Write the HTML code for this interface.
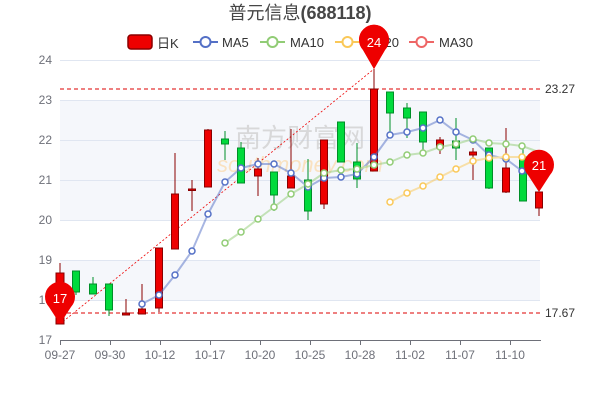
<!DOCTYPE html>
<html><head><meta charset="utf-8"><style>body{margin:0;background:#fff}svg{display:block}</style></head><body>
<svg width="600" height="400" xmlns="http://www.w3.org/2000/svg" font-family="Liberation Sans, Noto Sans CJK SC, sans-serif">
<rect width="600" height="400" fill="#fff"/>
<rect x="60" y="100" width="480" height="120" fill="#f5f7fb"/>
<rect x="60" y="260" width="480" height="40" fill="#f5f7fb"/>
<g stroke="#e0e6f1" stroke-width="1">
<line x1="60" y1="60.5" x2="540" y2="60.5"/><line x1="60" y1="100.5" x2="540" y2="100.5"/><line x1="60" y1="140.5" x2="540" y2="140.5"/><line x1="60" y1="180.5" x2="540" y2="180.5"/><line x1="60" y1="220.5" x2="540" y2="220.5"/><line x1="60" y1="260.5" x2="540" y2="260.5"/><line x1="60" y1="300.5" x2="540" y2="300.5"/>
</g>
<text x="300" y="147" font-size="26" fill="#ccc" opacity="0.7" text-anchor="middle">南方财富网</text>
<text x="300" y="172" font-size="22" fill="#fbd9a8" opacity="0.7" text-anchor="middle" font-style="italic">southmoney.com</text>
<line x1="60" y1="340.5" x2="541" y2="340.5" stroke="#6e7079"/>
<g stroke="#6e7079">
<line x1="60.5" y1="340" x2="60.5" y2="345"/><line x1="110.5" y1="340" x2="110.5" y2="345"/><line x1="160.5" y1="340" x2="160.5" y2="345"/><line x1="210.5" y1="340" x2="210.5" y2="345"/><line x1="260.5" y1="340" x2="260.5" y2="345"/><line x1="310.5" y1="340" x2="310.5" y2="345"/><line x1="360.5" y1="340" x2="360.5" y2="345"/><line x1="410.5" y1="340" x2="410.5" y2="345"/><line x1="460.5" y1="340" x2="460.5" y2="345"/><line x1="510.5" y1="340" x2="510.5" y2="345"/>
</g>
<g font-size="12" fill="#6e7079" text-anchor="middle">
<text x="60" y="359">09-27</text><text x="110" y="359">09-30</text><text x="160" y="359">10-12</text><text x="210" y="359">10-17</text><text x="260" y="359">10-20</text><text x="310" y="359">10-25</text><text x="360" y="359">10-28</text><text x="410" y="359">11-02</text><text x="460" y="359">11-07</text><text x="510" y="359">11-10</text>
</g>
<g font-size="12" fill="#6e7079" text-anchor="end">
<text x="52" y="64">24</text><text x="52" y="104">23</text><text x="52" y="144">22</text><text x="52" y="184">21</text><text x="52" y="224">20</text><text x="52" y="264">19</text><text x="52" y="304">18</text><text x="52" y="344">17</text>
</g>
<g stroke="#d00" stroke-dasharray="4,3" stroke-width="1">
<line x1="60" y1="89" x2="540" y2="89"/><line x1="60" y1="313" x2="540" y2="313"/>
</g>
<line x1="60" y1="324" x2="374" y2="69" stroke="#e00" stroke-dasharray="2,2" stroke-width="0.8"/>
<g font-size="12" fill="#333"><text x="545" y="93">23.27</text><text x="545" y="317">17.67</text></g>
<g id="c" stroke-width="1">
<!-- x, wickTop, wickBot, bodyTop, bodyBot, up -->
</g>
<g>
<line x1="60" y1="263" x2="60" y2="324" stroke="#8a0000"/><rect x="56" y="273" width="8" height="51" fill="#e00" stroke="#8a0000"/>
<line x1="76" y1="271" x2="76" y2="295" stroke="#008f28"/><rect x="72.5" y="271" width="7" height="21" fill="#00da3c" stroke="#008f28"/>
<line x1="93" y1="277" x2="93" y2="294" stroke="#008f28"/><rect x="89.5" y="284" width="7" height="10" fill="#00da3c" stroke="#008f28"/>
<line x1="109" y1="284" x2="109" y2="316" stroke="#008f28"/><rect x="105.5" y="284" width="7" height="26" fill="#00da3c" stroke="#008f28"/>
<line x1="126" y1="299" x2="126" y2="315" stroke="#8a0000"/><rect x="122.5" y="313" width="7" height="2" fill="#e00" stroke="#8a0000"/>
<line x1="142" y1="284" x2="142" y2="314" stroke="#8a0000"/><rect x="138.5" y="309" width="7" height="5" fill="#e00" stroke="#8a0000"/>
<line x1="159" y1="248" x2="159" y2="312" stroke="#8a0000"/><rect x="155.5" y="248" width="7" height="60" fill="#e00" stroke="#8a0000"/>
<line x1="175" y1="153" x2="175" y2="249" stroke="#8a0000"/><rect x="171.5" y="194" width="7" height="55" fill="#e00" stroke="#8a0000"/>
<line x1="192" y1="180" x2="192" y2="211" stroke="#8a0000"/><rect x="188.5" y="189" width="7" height="1.5" fill="#e00" stroke="#8a0000"/>
<line x1="208" y1="129" x2="208" y2="187" stroke="#8a0000"/><rect x="204.5" y="130" width="7" height="57" fill="#e00" stroke="#8a0000"/>
<line x1="225" y1="131" x2="225" y2="160" stroke="#008f28"/><rect x="221.5" y="139" width="7" height="5" fill="#00da3c" stroke="#008f28"/>
<line x1="241" y1="142" x2="241" y2="183" stroke="#008f28"/><rect x="237.5" y="148" width="7" height="35" fill="#00da3c" stroke="#008f28"/>
<line x1="258" y1="158" x2="258" y2="196" stroke="#8a0000"/><rect x="254.5" y="169" width="7" height="7" fill="#e00" stroke="#8a0000"/>
<line x1="274" y1="172" x2="274" y2="211" stroke="#008f28"/><rect x="270.5" y="172" width="7" height="23" fill="#00da3c" stroke="#008f28"/>
<line x1="291" y1="129" x2="291" y2="188" stroke="#8a0000"/><rect x="287.5" y="176" width="7" height="12" fill="#e00" stroke="#8a0000"/>
<line x1="308" y1="159" x2="308" y2="220" stroke="#008f28"/><rect x="304.5" y="180" width="7" height="31" fill="#00da3c" stroke="#008f28"/>
<line x1="324" y1="140" x2="324" y2="209" stroke="#8a0000"/><rect x="320.5" y="140" width="7" height="64" fill="#e00" stroke="#8a0000"/>
<line x1="341" y1="122" x2="341" y2="162" stroke="#008f28"/><rect x="337.5" y="122" width="7" height="40" fill="#00da3c" stroke="#008f28"/>
<line x1="357" y1="143" x2="357" y2="188" stroke="#008f28"/><rect x="353.5" y="162" width="7" height="17" fill="#00da3c" stroke="#008f28"/>
<line x1="374" y1="69" x2="374" y2="171" stroke="#8a0000"/><rect x="370.5" y="89" width="7" height="82" fill="#e00" stroke="#8a0000"/>
<line x1="390" y1="92" x2="390" y2="132" stroke="#008f28"/><rect x="386.5" y="92" width="7" height="21" fill="#00da3c" stroke="#008f28"/>
<line x1="407" y1="103" x2="407" y2="138" stroke="#008f28"/><rect x="403.5" y="108" width="7" height="10" fill="#00da3c" stroke="#008f28"/>
<line x1="423" y1="112" x2="423" y2="150" stroke="#008f28"/><rect x="419.5" y="112" width="7" height="30" fill="#00da3c" stroke="#008f28"/>
<line x1="440" y1="137" x2="440" y2="154" stroke="#8a0000"/><rect x="436.5" y="140" width="7" height="8" fill="#e00" stroke="#8a0000"/>
<line x1="456" y1="118" x2="456" y2="160" stroke="#008f28"/><rect x="452.5" y="141" width="7" height="7" fill="#00da3c" stroke="#008f28"/>
<line x1="473" y1="148" x2="473" y2="180" stroke="#8a0000"/><rect x="469.5" y="152" width="7" height="3" fill="#e00" stroke="#8a0000"/>
<line x1="489" y1="148" x2="489" y2="189" stroke="#008f28"/><rect x="485.5" y="148" width="7" height="40" fill="#00da3c" stroke="#008f28"/>
<line x1="506" y1="128" x2="506" y2="193" stroke="#8a0000"/><rect x="502.5" y="168" width="7" height="24" fill="#e00" stroke="#8a0000"/>
<line x1="523" y1="148" x2="523" y2="201" stroke="#008f28"/><rect x="519.5" y="157" width="7" height="44" fill="#00da3c" stroke="#008f28"/>
<line x1="539" y1="192" x2="539" y2="216" stroke="#8a0000"/><rect x="535.5" y="192" width="7" height="16" fill="#e00" stroke="#8a0000"/>
</g>
<g fill="none" stroke-width="2" opacity="0.5" stroke-linejoin="round">
<polyline stroke="#5470c6" points="142,304 159,295 175,275 192,251 208,214 225,182 241,168 258,164 274,164 291,173 308,187 324,178 341,177 357,174 374,157 390,135 407,132 423,128 440,120 456,132 473,140 489,155 506,159 522,171 539,180"/>
<polyline stroke="#91cc75" points="225,243 241,232 258,219 274,207 291,194 308,184 324,173 341,170 357,169 374,165 390,162 407,155 423,153 440,147 456,144 473,139 489,143 506,144 522,146 539,152"/>
<polyline stroke="#fac858" points="390,202 407,193 423,186 440,177 456,169 473,161 489,158 506,157 522,157 539,157"/>
</g>
<g fill="#fff" stroke-width="1.5">
<g stroke="#5470c6"><circle cx="142" cy="304" r="3"/><circle cx="159" cy="295" r="3"/><circle cx="175" cy="275" r="3"/><circle cx="192" cy="251" r="3"/><circle cx="208" cy="214" r="3"/><circle cx="225" cy="182" r="3"/><circle cx="241" cy="168" r="3"/><circle cx="258" cy="164" r="3"/><circle cx="274" cy="164" r="3"/><circle cx="291" cy="173" r="3"/><circle cx="308" cy="187" r="3"/><circle cx="324" cy="178" r="3"/><circle cx="341" cy="177" r="3"/><circle cx="357" cy="174" r="3"/><circle cx="374" cy="157" r="3"/><circle cx="390" cy="135" r="3"/><circle cx="407" cy="132" r="3"/><circle cx="423" cy="128" r="3"/><circle cx="440" cy="120" r="3"/><circle cx="456" cy="132" r="3"/><circle cx="473" cy="140" r="3"/><circle cx="489" cy="155" r="3"/><circle cx="506" cy="159" r="3"/><circle cx="522" cy="171" r="3"/></g>
<g stroke="#91cc75"><circle cx="225" cy="243" r="3"/><circle cx="241" cy="232" r="3"/><circle cx="258" cy="219" r="3"/><circle cx="274" cy="207" r="3"/><circle cx="291" cy="194" r="3"/><circle cx="308" cy="184" r="3"/><circle cx="324" cy="173" r="3"/><circle cx="341" cy="170" r="3"/><circle cx="357" cy="169" r="3"/><circle cx="374" cy="165" r="3"/><circle cx="390" cy="162" r="3"/><circle cx="407" cy="155" r="3"/><circle cx="423" cy="153" r="3"/><circle cx="440" cy="147" r="3"/><circle cx="456" cy="144" r="3"/><circle cx="473" cy="139" r="3"/><circle cx="489" cy="143" r="3"/><circle cx="506" cy="144" r="3"/><circle cx="522" cy="146" r="3"/></g>
<g stroke="#fac858"><circle cx="390" cy="202" r="3"/><circle cx="407" cy="193" r="3"/><circle cx="423" cy="186" r="3"/><circle cx="440" cy="177" r="3"/><circle cx="456" cy="169" r="3"/><circle cx="473" cy="161" r="3"/><circle cx="489" cy="158" r="3"/><circle cx="506" cy="157" r="3"/><circle cx="522" cy="157" r="3"/></g>
</g>
<g fill="#e00">
<path d="M374,69 L363,50 A15,15 0 1 1 385,50 Z"/>
<path d="M60,324 L49,307 A15,15 0 1 1 71,307 Z"/>
<path d="M539,192 L528,175 A15,15 0 1 1 550,175 Z"/>
</g>
<g fill="#fff" font-size="13" text-anchor="middle"><text x="374" y="47">24</text><text x="60" y="303">17</text><text x="539" y="170">21</text></g>
<text x="300" y="19" font-size="18" fill="#464646" text-anchor="middle">普元信息<tspan font-weight="bold">(688118)</tspan></text>
<g font-size="13" fill="#333">
<rect x="128" y="35" width="24" height="14" rx="3" fill="#e00" stroke="#8a0000" stroke-width="1.5"/>
<text x="157" y="48">日K</text>
<line x1="193" y1="42" x2="218" y2="42" stroke="#5470c6" stroke-width="2"/><circle cx="205.5" cy="42" r="5" fill="#fff" stroke="#5470c6" stroke-width="2"/><text x="222" y="47">MA5</text>
<line x1="260" y1="42" x2="285" y2="42" stroke="#91cc75" stroke-width="2"/><circle cx="272.5" cy="42" r="5" fill="#fff" stroke="#91cc75" stroke-width="2"/><text x="290" y="47">MA10</text>
<line x1="335" y1="42" x2="360" y2="42" stroke="#fac858" stroke-width="2"/><circle cx="347.5" cy="42" r="5" fill="#fff" stroke="#fac858" stroke-width="2"/><text x="365" y="47">MA20</text>
<line x1="409" y1="42" x2="434" y2="42" stroke="#ee6666" stroke-width="2"/><circle cx="421.5" cy="42" r="5" fill="#fff" stroke="#ee6666" stroke-width="2"/><text x="439" y="47">MA30</text>
</g>
<path d="M374,69 L363,50 A15,15 0 1 1 385,50 Z" fill="#e00"/>
<text x="374" y="47" fill="#fff" font-size="13" text-anchor="middle">24</text>
</svg>
</body></html>
